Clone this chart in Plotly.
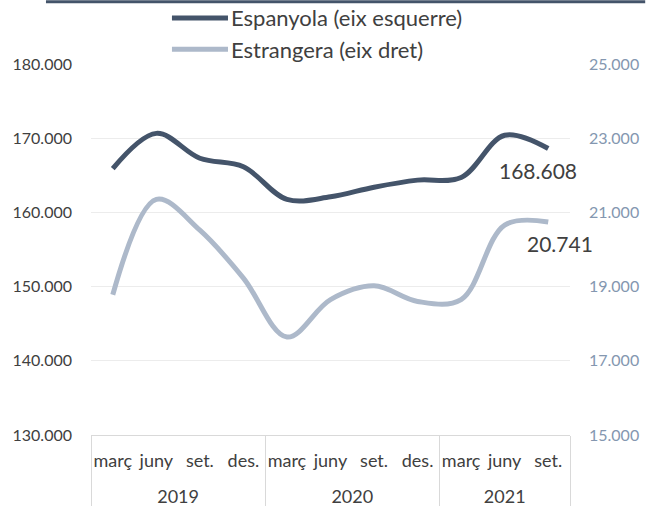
import plotly.graph_objects as go

years = ["2019"] * 4 + ["2020"] * 4 + ["2021"] * 3
months = ["març", "juny", "set.", "des.", "març", "juny", "set.", "des.", "març", "juny", "set."]
espanyola = [165900, 170650, 167300, 166150, 161750, 162100, 163400, 164350, 164700, 170400, 168608]
estrangera = [18780, 21350, 20520, 19230, 17640, 18650, 19020, 18600, 18650, 20660, 20741]
name_esp = "Espanyola (eix esquerre)"
name_est = "Estrangera (eix dret)"

DARK = "#44546A"
LIGHT = "#ADB9CA"
TXT = "#404040"
GRIDC = "#d9d9d9"
FONT = "Lato"

def fmt(v):
    return f"{v:,}".replace(",", ".")

n = len(months)
idx = list(range(n))

# year groups derived from the data
year_names, year_centers, bounds = [], [], [-0.5]
start = 0
for i in range(1, n + 1):
    if i == n or years[i] != years[start]:
        year_names.append(years[start])
        year_centers.append((start + i - 1) / 2)
        bounds.append(i - 0.5)
        start = i

fig = go.Figure()
fig.add_trace(go.Scatter(x=[years, months], y=estrangera, yaxis="y2", mode="lines",
                         line=dict(color=LIGHT, width=5, shape="spline", smoothing=1.0),
                         name=name_est, showlegend=False, hoverinfo="skip"))
fig.add_trace(go.Scatter(x=[years, months], y=espanyola, mode="lines",
                         line=dict(color=DARK, width=5, shape="spline", smoothing=1.0),
                         name=name_esp, showlegend=False, hoverinfo="skip"))

# empty helper traces so the label / divider axes get drawn
for ax, xs in [("x2", idx), ("x3", year_centers), ("x4", bounds)]:
    fig.add_trace(go.Scatter(x=xs, y=[None] * len(xs), xaxis=ax, yaxis="y", mode="lines",
                             showlegend=False, hoverinfo="skip"))

last = n - 1
fig.add_annotation(x=last, y=espanyola[-1], xref="x", yref="y", text=fmt(espanyola[-1]),
                   showarrow=False, xshift=-10, yshift=-22,
                   font=dict(family=FONT, size=21, color=TXT))
fig.add_annotation(x=last, y=estrangera[-1], xref="x", yref="y2", text=fmt(estrangera[-1]),
                   showarrow=False, xshift=12, yshift=-21,
                   font=dict(family=FONT, size=21, color=TXT))

# top border line
fig.add_shape(type="line", xref="paper", yref="paper", x0=-0.094, x1=1.157, y0=1.168, y1=1.168,
              line=dict(color=DARK, width=3))

# manual legend
for yy, col, nm in [(1.124, DARK, name_esp), (1.040, LIGHT, name_est)]:
    fig.add_shape(type="line", xref="paper", yref="paper", x0=0.169, x1=0.286, y0=yy, y1=yy,
                  line=dict(color=col, width=5))
    fig.add_annotation(x=0.289, y=yy, xref="paper", yref="paper", text=nm, showarrow=False,
                       xanchor="left", yanchor="middle",
                       font=dict(family=FONT, size=22, color=TXT))

xr = [-0.5, n - 0.5]
common_x = dict(range=xr, autorange=False, showgrid=False, zeroline=False, automargin=False,
                fixedrange=True)

fig.update_layout(
    width=658, height=506,
    margin=dict(l=91, r=88, t=64, b=71),
    paper_bgcolor="white", plot_bgcolor="white",
    separators=",.",
    showlegend=False,
    hovermode=False,
    font=dict(family=FONT, color=TXT),
    xaxis=dict(type="multicategory", showline=True, linecolor=GRIDC, linewidth=1,
               showticklabels=False, ticks="", showdividers=False, **common_x),
    # month labels
    xaxis2=dict(type="linear", overlaying="x", anchor="y", side="bottom",
                tickmode="array", tickvals=idx, ticktext=months, ticks="",
                showline=False, ticklabelstandoff=13, tickangle=0,
                tickfont=dict(family=FONT, size=18, color=TXT), **common_x),
    # year labels
    xaxis3=dict(type="linear", overlaying="x", anchor="y", side="bottom",
                tickmode="array", tickvals=year_centers, ticktext=year_names, ticks="",
                showline=False, ticklabelstandoff=49, tickangle=0,
                tickfont=dict(family=FONT, size=18, color=TXT), **common_x),
    # group dividers
    xaxis4=dict(type="linear", overlaying="x", anchor="y", side="bottom",
                tickmode="array", tickvals=bounds, ticks="outside", ticklen=71,
                tickcolor=GRIDC, tickwidth=1, showticklabels=False, showline=False,
                **common_x),
    yaxis=dict(range=[130000, 180000], dtick=10000, tickformat=",.0f",
               showgrid=True, gridcolor="#ececec", gridwidth=1, zeroline=False,
               showline=False, ticks="", ticklabelstandoff=18, automargin=False,
               fixedrange=True,
               tickfont=dict(family=FONT, size=16, color=TXT)),
    yaxis2=dict(range=[15000, 25000], tick0=15000, dtick=2000, tickformat=",.0f",
                overlaying="y", side="right", showgrid=False, zeroline=False,
                showline=False, ticks="", ticklabelstandoff=18, automargin=False,
                fixedrange=True,
                tickfont=dict(family=FONT, size=16, color="#8497B0")),
)

fig.write_html("out.html", config={"displayModeBar": False},
               post_script="document.body.style.margin='0';")
